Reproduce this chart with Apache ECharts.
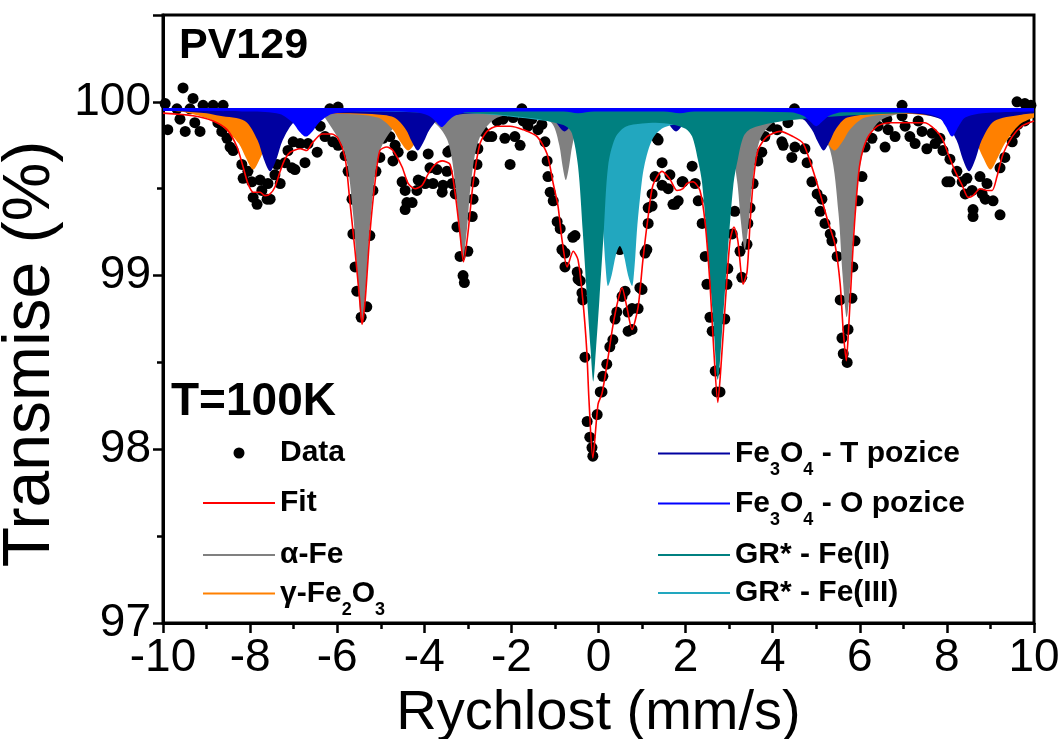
<!DOCTYPE html>
<html>
<head>
<meta charset="utf-8">
<script src="https://cdn.jsdelivr.net/npm/echarts@6/dist/echarts.min.js"></script>
<style>
  html, body {margin: 0; padding: 0; background: #fff;}
  #chart {width: 1063px; height: 739px;}
</style>
</head>
<body>
<div id="chart"></div>
<script>
const FONT = 'Liberation Sans, Arial, sans-serif';
const BASE = 99.965;

// measured points [velocity, transmission]
const measured = [
  [-9.95,99.99],[-9.89,99.84],[-9.68,99.96],[-9.61,99.90],[-9.54,100.08],[-9.49,99.83],[-9.38,99.96],[-9.31,100.02],
  [-9.27,99.88],[-9.15,99.83],[-9.08,99.98],[-8.85,99.98],[-8.74,99.88],[-8.65,99.83],[-8.62,99.98],[-8.53,99.79],
  [-8.46,99.74],[-8.39,99.72],[-8.19,99.64],[-8.16,99.56],[-8.05,99.60],[-7.96,99.54],[-7.93,99.45],[-7.84,99.41],
  [-7.77,99.55],[-7.73,99.49],[-7.61,99.44],[-7.59,99.53],[-7.54,99.44],[-7.43,99.58],[-7.38,99.64],[-7.31,99.53],
  [-7.20,99.65],[-7.13,99.72],[-7.04,99.62],[-7.01,99.77],[-6.97,99.61],[-6.85,99.76],[-6.74,99.65],
  [-6.67,99.76],[-6.46,99.71],[-6.39,99.86],[-6.28,99.80],[-6.17,99.96],[-6.10,99.77],[-5.98,99.97],[-5.98,99.75],
  [-5.82,99.69],[-5.75,99.60],[-5.66,99.44],[-5.64,99.24],[-5.59,99.05],[-5.55,98.91],[-5.45,98.76],[-5.32,98.82],
  [-5.25,99.23],[-5.18,99.49],[-5.11,99.60],[-5.02,99.68],[-4.95,99.79],[-4.79,99.80],[-4.72,99.66],[-4.67,99.75],
  [-4.60,99.71],[-4.51,99.54],[-4.44,99.49],[-4.44,99.38],[-4.40,99.42],[-4.28,99.69],[-4.28,99.42],[-4.17,99.49],
  [-4.14,99.55],[-4.05,99.54],[-3.98,99.53],[-3.91,99.70],[-3.87,99.62],[-3.80,99.53],[-3.71,99.61],[-3.59,99.48],
  [-3.57,99.52],[-3.48,99.60],[-3.46,99.71],
  [-3.41,99.72],[-3.36,99.53],[-3.29,99.47],[-3.25,99.28],[-3.18,99.11],[-3.11,99.00],[-3.08,98.96],[-3.00,99.14],
  [-2.90,99.34],[-2.88,99.44],[-2.86,99.54],[-2.79,99.64],[-2.77,99.73],[-2.65,99.83],[-2.54,99.80],[-2.45,99.80],
  [-2.33,99.89],[-2.19,99.90],[-2.15,99.79],[-2.03,99.64],[-1.96,99.91],[-1.92,99.80],[-1.80,99.75],[-1.76,99.96],
  [-1.73,99.89],[-1.62,99.86],[-1.53,99.90],[-1.39,99.84],[-1.30,99.87],[-1.23,99.77],[-1.18,99.66],[-1.16,99.57],
  [-1.11,99.48],[-1.04,99.43],[-0.95,99.31],[-0.88,99.27],[-0.84,99.15],[-0.77,99.05],[-0.77,99.13],[-0.59,99.22],
  [-0.54,99.23],[-0.49,99.02],[-0.47,98.98],[-0.42,98.97],[-0.38,98.90],[-0.36,98.86],[-0.31,98.53],[-0.26,98.16],
  [-0.20,98.07],[-0.15,98.01],[-0.13,97.96],[-0.03,98.20],[0.04,98.33],
  [0.08,98.33],[0.10,98.42],[0.19,98.49],[0.26,98.59],[0.33,98.63],[0.38,98.75],[0.42,98.79],[0.49,99.15],
  [0.54,98.88],[0.61,98.91],[0.68,98.68],[0.68,98.79],[0.77,98.69],[0.77,98.81],[0.91,98.81],[0.95,98.93],
  [1.00,98.92],[1.07,99.13],[1.11,99.15],[1.14,99.30],[1.14,99.39],[1.23,99.40],[1.23,99.47],[1.30,99.57],
  [1.34,99.79],[1.37,99.78],[1.46,99.65],[1.46,99.52],[1.60,99.50],[1.64,99.58],[1.71,99.41],[1.76,99.41],
  [1.83,99.43],[1.92,99.54],[1.94,99.54],[2.15,99.63],[2.22,99.53],[2.29,99.43],[2.38,99.30],[2.45,99.11],
  [2.49,98.95],[2.56,98.76],[2.61,98.68],[2.68,98.45],[2.72,98.33],[2.79,98.33],[2.90,98.75],[2.95,98.95],
  [2.97,99.04],[3.07,99.24],[3.13,99.37],[3.25,99.14],[3.29,98.99],
  [3.41,99.18],[3.43,99.30],[3.48,99.39],[3.55,99.53],[3.66,99.66],[3.75,99.71],[3.82,99.80],[3.94,99.86],
  [4.10,99.84],[4.21,99.77],[4.24,99.75],[4.35,99.88],[4.44,99.68],[4.50,99.96],[4.51,99.74],[4.74,99.73],
  [4.79,99.65],[4.90,99.54],[5.02,99.47],[5.09,99.37],[5.13,99.44],[5.20,99.30],[5.32,99.24],[5.36,99.20],
  [5.48,99.11],[5.55,98.86],[5.59,98.64],[5.62,98.55],[5.71,98.50],[5.73,98.69],[5.82,98.87],[5.84,99.05],
  [5.89,99.20],[5.96,99.43],[6.05,99.57],[6.12,99.74],[6.28,99.79],[6.42,99.86],[6.58,99.74],[6.62,99.90],
  [6.65,99.84],[6.81,99.80],[6.97,99.92],[6.97,99.98],[7.04,99.86],[7.15,99.80],[7.27,99.76],[7.34,99.89],
  [7.43,99.83],[7.54,99.73],[7.66,99.82],[7.73,99.76],[7.84,99.79],[7.91,99.72],[8.00,99.54],[8.07,99.67],
  [8.07,99.54],[8.23,99.60],[8.35,99.54],[8.42,99.47],[8.46,99.56],[8.58,99.49],[8.60,99.38],[8.60,99.34],
  [8.76,99.57],[8.81,99.47],[8.88,99.44],[8.92,99.53],[9.06,99.43],[9.22,99.35],[9.22,99.62],[9.33,99.68],
  [9.50,99.77],[9.56,99.82],[9.61,100.00],[9.63,99.87],[9.79,99.99],[9.79,99.89],[9.93,99.98]
];

// total fit curve
const fitCurve = [
  [-10,99.935],[-9.31,99.92],[-8.85,99.89],[-8.53,99.84],[-8.30,99.74],[-8.16,99.625],[-8.05,99.53],[-7.93,99.48],
  [-7.77,99.48],[-7.66,99.46],[-7.54,99.47],[-7.43,99.51],[-7.31,99.60],[-7.20,99.67],[-7.08,99.71],[-6.85,99.73],
  [-6.70,99.72],[-6.58,99.76],[-6.35,99.815],[-6.12,99.815],[-5.98,99.79],[-5.82,99.68],[-5.71,99.43],[-5.59,99.14],
  [-5.48,98.85],[-5.43,98.72],[-5.36,98.85],[-5.25,99.24],[-5.13,99.54],[-5.02,99.72],[-4.86,99.74],[-4.72,99.72],
  [-4.51,99.625],[-4.37,99.53],[-4.21,99.50],[-4.05,99.52],[-3.91,99.585],[-3.75,99.64],[-3.59,99.66],[-3.41,99.64],
  [-3.29,99.47],[-3.18,99.24],[-3.10,99.08],[-3.00,99.24],[-2.88,99.53],[-2.72,99.76],[-2.56,99.83],[-2.33,99.86],
  [-2.03,99.86],[-1.73,99.84],[-1.41,99.80],[-1.18,99.70],[-1.04,99.53],[-0.93,99.40],[-0.84,99.21],[-0.72,99.05],
  [-0.58,99.14],[-0.47,99.09],[-0.36,98.86],[-0.27,98.57],[-0.22,98.29],[-0.13,97.95],[-0.01,98.26],[0.08,98.32],
  [0.19,98.48],[0.33,98.71],[0.45,98.86],[0.54,98.93],[0.65,98.82],[0.77,98.69],[0.91,98.82],[1.02,99.09],
  [1.14,99.34],[1.25,99.52],[1.46,99.60],[1.64,99.555],[1.80,99.49],[1.94,99.50],[2.03,99.53],[2.17,99.54],
  [2.33,99.49],[2.45,99.30],[2.56,98.95],[2.65,98.56],[2.74,98.27],[2.81,98.47],[2.93,98.91],[3.02,99.20],
  [3.11,99.28],[3.20,99.20],[3.32,98.95],[3.41,99.02],[3.48,99.30],[3.55,99.53],[3.66,99.72],[3.87,99.80],
  [4.17,99.83],[4.47,99.80],[4.70,99.76],[4.90,99.625],[5.09,99.47],[5.27,99.31],[5.43,99.18],[5.55,98.95],
  [5.62,98.68],[5.69,98.51],[5.74,98.68],[5.82,99.05],[5.89,99.34],[6.00,99.64],[6.17,99.79],[6.40,99.86],
  [6.69,99.88],[7.04,99.88],[7.50,99.88],[7.73,99.84],[7.89,99.79],[8.03,99.70],[8.19,99.60],[8.35,99.52],
  [8.49,99.45],[8.60,99.46],[8.76,99.50],[8.92,99.49],[9.04,99.49],[9.15,99.57],[9.29,99.70],[9.50,99.80],
  [9.72,99.86],[10,99.89]
];

// subspectra
const alphaFe = [
  [-10,99.96],[-7.5,99.95],[-6.4,99.93],[-6.23,99.89],[-5.83,99.71],[-5.63,99.34],[-5.53,98.97],[-5.43,98.72],
  [-5.33,98.97],[-5.23,99.34],[-5.03,99.71],[-4.63,99.87],[-4.2,99.90],[-3.83,99.89],[-3.47,99.78],[-3.29,99.53],
  [-3.20,99.27],[-3.11,99.10],[-3.02,99.27],[-2.93,99.53],[-2.75,99.78],[-2.39,99.90],[-1.8,99.93],[-1.35,99.92],
  [-1.05,99.87],[-0.90,99.75],[-0.825,99.63],[-0.75,99.55],[-0.675,99.63],[-0.60,99.75],[-0.45,99.87],[-0.1,99.92],
  [0.4,99.92],[0.7,99.88],[0.85,99.80],[0.93,99.72],[1.0,99.66],[1.07,99.72],[1.15,99.80],[1.3,99.88],
  [1.8,99.93],[2.64,99.90],[3.0,99.79],[3.18,99.55],[3.27,99.31],[3.36,99.15],[3.45,99.31],[3.54,99.55],
  [3.72,99.79],[4.08,99.89],[4.5,99.90],[4.94,99.88],[5.32,99.72],[5.51,99.36],[5.605,99.00],[5.70,98.76],
  [5.795,99.00],[5.89,99.36],[6.08,99.72],[6.46,99.89],[7.2,99.94],[10,99.96]
];
const gammaFe2O3 = [
  [-10,99.955],[-9.5,99.94],[-8.93,99.90],[-8.6,99.85],[-8.26,99.76],[-8.1,99.68],[-7.93,99.61],[-7.76,99.68],
  [-7.6,99.76],[-7.26,99.85],[-6.9,99.90],[-6.0,99.93],[-5.07,99.91],[-4.72,99.84],[-4.55,99.77],[-4.37,99.72],
  [-4.19,99.77],[-4.02,99.84],[-3.67,99.91],[-2.5,99.945],[0.5,99.95],[3.5,99.945],[4.72,99.91],[5.07,99.84],
  [5.24,99.77],[5.42,99.72],[5.60,99.77],[5.77,99.84],[6.12,99.91],[7.1,99.93],[8.0,99.90],[8.34,99.85],
  [8.67,99.76],[8.83,99.68],[9.0,99.61],[9.17,99.68],[9.33,99.76],[9.67,99.87],[10,99.91]
];
const fe3o4T = [
  [-10,99.95],[-9,99.935],[-8.7,99.92],[-8.12,99.89],[-7.83,99.78],[-7.685,99.67],[-7.54,99.60],[-7.395,99.67],
  [-7.25,99.78],[-6.96,99.89],[-6.38,99.93],[-5.85,99.935],[-5.2,99.93],[-4.69,99.91],[-4.42,99.84],[-4.285,99.77],
  [-4.15,99.72],[-4.015,99.77],[-3.88,99.84],[-3.61,99.91],[-2.6,99.935],[-1.28,99.925],[-1.03,99.895],[-0.78,99.83],
  [-0.53,99.895],[-0.28,99.925],[0.5,99.93],[1.28,99.925],[1.53,99.895],[1.78,99.83],[2.03,99.895],[2.28,99.925],
  [3.6,99.935],[4.63,99.91],[4.90,99.84],[5.035,99.77],[5.17,99.72],[5.305,99.77],[5.44,99.84],[5.71,99.91],
  [6.7,99.935],[7.35,99.93],[7.93,99.89],[8.22,99.78],[8.365,99.67],[8.51,99.60],[8.655,99.67],[8.80,99.78],
  [9.09,99.89],[9.67,99.925],[10,99.935]
];
const fe3o4O = [
  [-10,99.948],[-8.0,99.945],[-7.32,99.93],[-7.02,99.88],[-6.87,99.83],[-6.72,99.80],[-6.57,99.83],[-6.42,99.88],
  [-6.12,99.93],[-5.4,99.945],[-4.2,99.94],[-3.90,99.92],[-3.75,99.89],[-3.60,99.855],[-3.45,99.89],[-3.30,99.92],
  [-3.0,99.94],[-0.8,99.945],[-0.47,99.935],[-0.1,99.945],[1.5,99.945],[1.87,99.935],[2.2,99.945],[4.4,99.94],
  [4.70,99.92],[4.85,99.89],[5.0,99.86],[5.15,99.89],[5.30,99.92],[5.6,99.94],[7.4,99.935],[7.82,99.91],
  [7.97,99.86],[8.12,99.80],[8.27,99.86],[8.42,99.91],[8.82,99.935],[10,99.945]
];
const grFe2 = [
  [-10,99.955],[-4,99.945],[-2.5,99.93],[-1.5,99.905],[-1.0,99.88],[-0.75,99.86],[-0.61,99.82],[-0.47,99.63],
  [-0.36,99.25],[-0.26,98.86],[-0.18,98.57],[-0.12,98.39],[-0.06,98.57],[0.02,98.86],[0.12,99.25],[0.22,99.63],
  [0.38,99.79],[0.61,99.855],[1.0,99.875],[1.31,99.88],[1.7,99.87],[2.0,99.845],[2.15,99.80],[2.28,99.67],
  [2.38,99.53],[2.51,99.14],[2.63,98.76],[2.74,98.40],[2.86,98.76],[2.97,99.14],[3.10,99.53],[3.20,99.67],
  [3.33,99.80],[3.5,99.845],[4.0,99.88],[5.0,99.91],[7,99.935],[10,99.95]
];
const grFe3 = [
  [-10,99.955],[-3,99.935],[-1.5,99.90],[-0.54,99.855],[-0.26,99.79],[-0.06,99.63],[0.04,99.44],[0.11,99.25],
  [0.16,99.06],[0.22,98.94],[0.30,99.00],[0.40,99.12],[0.49,99.17],[0.58,99.12],[0.68,99.00],[0.77,98.94],
  [0.83,99.06],[0.88,99.25],[0.95,99.44],[1.05,99.63],[1.25,99.79],[1.53,99.855],[2.5,99.90],[4,99.935],[10,99.955]
];

const legendLeft = ['Data', 'Fit', 'α-Fe', 'γ-Fe2O3'];
const legendRight = ['Fe3O4 - T pozice', 'Fe3O4 - O pozice', 'GR* - Fe(II)', 'GR* - Fe(III)'];
const legendRowsY = [453, 503, 555, 593];
const richLabels = {
  'γ-Fe2O3': 'γ-Fe{s|2}O{s|3}',
  'Fe3O4 - T pozice': 'Fe{s|3}O{s|4} - T pozice',
  'Fe3O4 - O pozice': 'Fe{s|3}O{s|4} - O pozice'
};
// dot centred in a 72px wide legend slot
const DOT_ICON = 'path://M0,6L0.1,6Z M72,6L71.9,6Z M30.5,6A5.5,5.5 0 1,1 41.5,6A5.5,5.5 0 1,1 30.5,6Z';

function component(name, data, color) {
  return {
    name, type: 'line', data, color,
    symbol: 'none', smooth: 0.3,
    lineStyle: {width: 0},
    areaStyle: {color, opacity: 1, origin: BASE},
    silent: true
  };
}

function legendAt(name, x, y) {
  const rich = !!richLabels[name];
  const isDot = name === 'Data';
  return {
    data: [name],
    left: x,
    top: y - (rich ? 25.5 : 17),
    padding: 0,
    itemWidth: 72,
    itemHeight: isDot ? 12 : 2,
    icon: isDot ? DOT_ICON : 'rect',
    selectedMode: false,
    formatter: n => richLabels[n] || n,
    textStyle: {
      fontFamily: FONT, fontSize: 30, fontWeight: 'bold', color: '#000', lineHeight: 34,
      rich: {s: {fontFamily: FONT, fontSize: 18, fontWeight: 'bold', color: '#000', lineHeight: 17, padding: [34, 0, 0, 0]}}
    }
  };
}

const legends = [];
legendLeft.forEach((n, i) => legends.push(legendAt(n, 203, legendRowsY[i])));
legendRight.forEach((n, i) => legends.push(legendAt(n, 658, legendRowsY[i])));

const chart = echarts.init(document.getElementById('chart'), null, {renderer: 'canvas'});
chart.setOption({
  animation: false,
  backgroundColor: '#fff',
  title: [
    {text: 'PV129', left: 179, top: 25, padding: 0,
      textStyle: {fontFamily: FONT, fontSize: 43, fontWeight: 'bold', color: '#000'}},
    {text: 'T=100K', left: 171, top: 379, padding: 0,
      textStyle: {fontFamily: FONT, fontSize: 46, fontWeight: 'bold', color: '#000'}}
  ],
  legend: legends,
  grid: {
    left: 163, right: 29, top: 15, bottom: 116,
    outerBoundsMode: 'none', containLabel: false,
    show: true, borderColor: '#000', borderWidth: 3
  },
  xAxis: {
    type: 'value', min: -10, max: 10, interval: 2,
    name: 'Rychlost (mm/s)', nameLocation: 'middle', nameGap: 60,
    nameTextStyle: {fontFamily: FONT, fontSize: 56, color: '#000'},
    axisLine: {onZero: false, lineStyle: {color: '#000', width: 3}},
    axisTick: {length: 10, lineStyle: {color: '#000', width: 2.5}},
    minorTick: {show: true, splitNumber: 2, length: 6, lineStyle: {color: '#000', width: 2.5}},
    axisLabel: {fontFamily: FONT, fontSize: 46, color: '#000', margin: 12},
    splitLine: {show: false}
  },
  yAxis: {
    type: 'value', min: 97, max: 100.5, interval: 1,
    name: 'Transmise (%)', nameLocation: 'middle', nameGap: 88,
    nameTextStyle: {fontFamily: FONT, fontSize: 66, color: '#000', padding: [0, 70, 0, 0]},
    axisLine: {onZero: false, lineStyle: {color: '#000', width: 3}},
    axisTick: {length: 10, lineStyle: {color: '#000', width: 2.5}},
    minorTick: {show: true, splitNumber: 2, length: 6, lineStyle: {color: '#000', width: 2.5}},
    axisLabel: {fontFamily: FONT, fontSize: 46, color: '#000', margin: 12,
      formatter: v => Number.isInteger(v) ? String(v) : ''},
    splitLine: {show: false}
  },
  series: [
    component('α-Fe', alphaFe, '#808080'),
    component('γ-Fe2O3', gammaFe2O3, '#FF8000'),
    component('Fe3O4 - T pozice', fe3o4T, '#0000A0'),
    component('GR* - Fe(III)', grFe3, '#22A7BF'),
    component('GR* - Fe(II)', grFe2, '#008080'),
    component('Fe3O4 - O pozice', fe3o4O, '#0000FF'),
    {
      name: 'Data', type: 'scatter', data: measured,
      symbol: 'circle', symbolSize: 11, itemStyle: {color: '#000', opacity: 1}, silent: true
    },
    {
      name: 'Fit', type: 'line', data: fitCurve, color: '#FF0000',
      symbol: 'none', smooth: 0.25, lineStyle: {width: 1.6, color: '#FF0000'}, silent: true
    }
  ]
});
</script>
</body>
</html>
